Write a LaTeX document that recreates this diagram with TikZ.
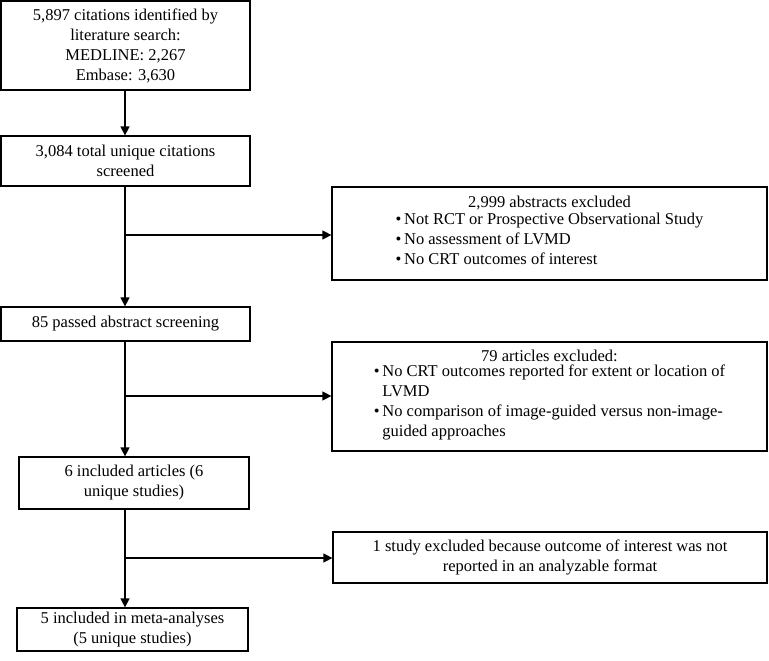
\documentclass[tikz,border=0pt]{standalone}
\usepackage{fontspec}
\setmainfont{Liberation Serif}
\usetikzlibrary{arrows.meta}
\begin{document}
\begin{tikzpicture}[x=1pt,y=1pt,
  box/.style={draw=black, line width=1.2pt, rectangle, inner sep=0pt, align=center,
    font=\fontsize{16.5}{20}\selectfont},
  flow/.style={line width=1.2pt, -{Triangle[length=9pt,width=9pt]}},
  link/.style={line width=1.2pt}]
\useasboundingbox (0,0) rectangle (769,-661);
\node[box, minimum width=249pt, minimum height=89pt] (b1) at (125.5,-45.5)
  {5,897 citations identified by\\ literature search:\\ MEDLINE: 2,267\\ Embase: 3,630};
\node[box, minimum width=249pt, minimum height=50pt] (b2) at (125.5,-161)
  {3,084 total unique citations\\ screened};
\node[box, minimum width=249pt, minimum height=34pt] (b4) at (125.5,-324)
  {85 passed abstract screening};
\node[box, minimum width=230pt, minimum height=52pt] (b6) at (134,-483)
  {6 included articles (6\\ unique studies)};
\node[box, minimum width=231pt, minimum height=43pt] (b7) at (132.5,-629.5)
  {5 included in meta-analyses\\ (5 unique studies)};
\node[box, minimum width=435pt, minimum height=93pt] (b3) at (549.5,-233.5)
  {2,999 abstracts excluded\\
   \begin{tabular}{@{}l@{\,}l@{}}
   \textbullet & Not RCT or Prospective Observational Study\\
   \textbullet & No assessment of LVMD\\
   \textbullet & No CRT outcomes of interest
   \end{tabular}};
\node[box, minimum width=435pt, minimum height=109pt] (b5) at (549.5,-396.5)
  {79 articles excluded:\\
   \begin{tabular}{@{}l@{\,}l@{}}
   \textbullet & No CRT outcomes reported for extent or location of\\
    & LVMD\\
   \textbullet & No comparison of image-guided versus non-image-\\
    & guided approaches
   \end{tabular}};
\node[box, minimum width=434pt, minimum height=51pt] (b8) at (550,-557.5)
  {1 study excluded because outcome of interest was not\\ reported in an analyzable format};
\coordinate (j1) at (125,-235);
\coordinate (j2) at (125,-396);
\coordinate (j3) at (125,-558);
\draw[flow] (b1.south -| j1) -- (b2.north -| j1);
\draw[flow] (b2.south -| j1) -- (b4.north -| j1);
\draw[flow] (b4.south -| j1) -- (b6.north -| j1);
\draw[flow] (b6.south -| j1) -- (b7.north -| j1);
\draw[flow] (j1) -- (b3.west |- j1);
\draw[flow] (j2) -- (b5.west |- j2);
\draw[flow] (j3) -- (b8.west |- j3);
\end{tikzpicture}
\end{document}
